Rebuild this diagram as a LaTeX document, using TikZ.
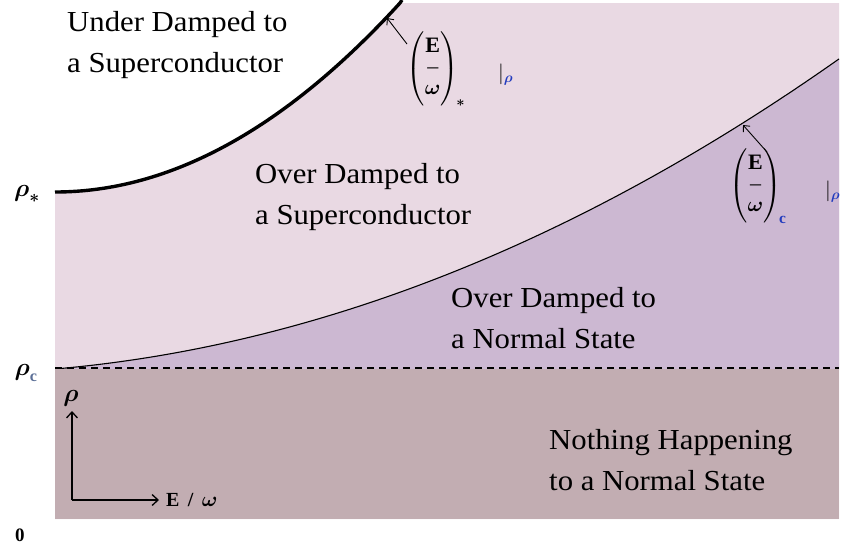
\documentclass[tikz,border=0pt]{standalone}
\usepackage{fontspec}
\usepackage{amsmath}
\usepackage{graphicx}
\setmainfont{Liberation Serif}
\usetikzlibrary{arrows.meta}
\definecolor{pinkbg}{RGB}{233,217,227}
\definecolor{purplebg}{RGB}{204,184,210}
\definecolor{mauvebg}{RGB}{194,173,178}
\definecolor{rhoblue}{RGB}{35,60,190}
\definecolor{cgrey}{RGB}{90,110,150}
\newcommand\twolines[2]{\scalebox{1.06}[1]{\begin{tabular}{@{}l@{}}#1\\#2\end{tabular}}}
\tikzset{
  region/.style={font=\fontsize{29}{41}\selectfont, anchor=west, inner sep=0pt},
  sidelbl/.style={font=\fontsize{23}{24}\selectfont, inner sep=0pt},
  axisarrow/.style={line width=2.4pt, -{Straight Barb[length=6pt,width=11pt,line width=1.3pt]}},
  pointer/.style={line width=0.9pt, -{Straight Barb[length=5pt,width=9pt,line width=0.9pt]}},
  annot/.style={font=\fontsize{22}{26}\selectfont, inner sep=0pt},
  barlbl/.style={font=\fontsize{20}{22}\selectfont, inner sep=0pt, anchor=west}
}
\begin{document}
\begin{tikzpicture}[x=1pt,y=-1pt]
\path[use as bounding box] (0,0) rectangle (843,550);
% regions
\fill[pinkbg] (55,192) .. controls (170,192) and (285,129) .. (400,3) -- (839,3) -- (839,519) -- (55,519) -- cycle;
\fill[purplebg] plot[domain=55:839, samples=90] (\x, {369 - 8.66*(\x-55)/100 - 3.94*((\x-55)/100)^2}) -- (839,369) -- cycle;
\fill[mauvebg] (55,369) rectangle (839,519);
% boundaries
\draw[line width=3.4pt] (55,192) .. controls (170,192) and (285,129) .. (400,3) -- (402,0);
\draw[line width=1.1pt] plot[domain=62:839, samples=90] (\x, {369 - 8.66*(\x-55)/100 - 3.94*((\x-55)/100)^2});
\draw[line width=1.1pt, dash pattern=on 7pt off 5pt] (55,368) -- (839,368);
% side labels
\node[sidelbl] (rhostar) at (27,194) {$\boldsymbol{\rho}_{\boldsymbol *}$};
\node[sidelbl] (rhoc) at (26,373) {$\boldsymbol{\rho}_{\textcolor{cgrey}{\mathbf c}}$};
\node[font=\bfseries\fontsize{19}{20}\selectfont, inner sep=0pt] (zero) at (20,535) {0};
% axes
\coordinate (O) at (72,500);
\coordinate (Ytip) at (72,411);
\coordinate (Xtip) at (159,500);
\draw[axisarrow] (O) -- (Ytip);
\draw[axisarrow] (O) -- (Xtip);
\node[sidelbl] (ylab) at (71,398) {$\boldsymbol{\rho}$};
\node[font=\bfseries\fontsize{20}{22}\selectfont, inner sep=0pt, anchor=west] (xlab) at (166,500) {E \,/\, $\boldsymbol{\omega}$};
% region texts
\node[region] (under) at (67,44) {\twolines{Under Damped to}{a Superconductor}};
\node[region] (oversc) at (255,196) {\twolines{Over Damped to}{a Superconductor}};
\node[region] (overn) at (451,320) {\twolines{Over Damped to}{a Normal State}};
\node[region] (nothing) at (549,462) {\twolines{Nothing Happening}{to a Normal State}};
% annotations
\node[annot] (estar) at (436,69) {$\left(\begin{array}{@{}c@{}}\mathbf{E}\\[-5pt] \text{--}\\[-5pt] \boldsymbol{\omega}\end{array}\right)_{\!\boldsymbol *}$};
\node[barlbl] (barstar) at (498,75) {$|_{\textcolor{rhoblue}{\scriptstyle\boldsymbol\rho}}$};
\coordinate (tipstar) at (387,18);
\coordinate (fromstar) at (407,44);
\draw[pointer] (fromstar) -- (tipstar);
\node[annot] (ec) at (758,186) {$\left(\begin{array}{@{}c@{}}\mathbf{E}\\[-5pt] \text{--}\\[-5pt] \boldsymbol{\omega}\end{array}\right)_{\!\textcolor{rhoblue}{\mathbf c}}$};
\node[barlbl] (barc) at (825,192) {$|_{\textcolor{rhoblue}{\scriptstyle\boldsymbol\rho}}$};
\coordinate (tipc) at (743,125);
\coordinate (fromc) at (767,152);
\draw[pointer] (fromc) -- (tipc);
\end{tikzpicture}
\end{document}
